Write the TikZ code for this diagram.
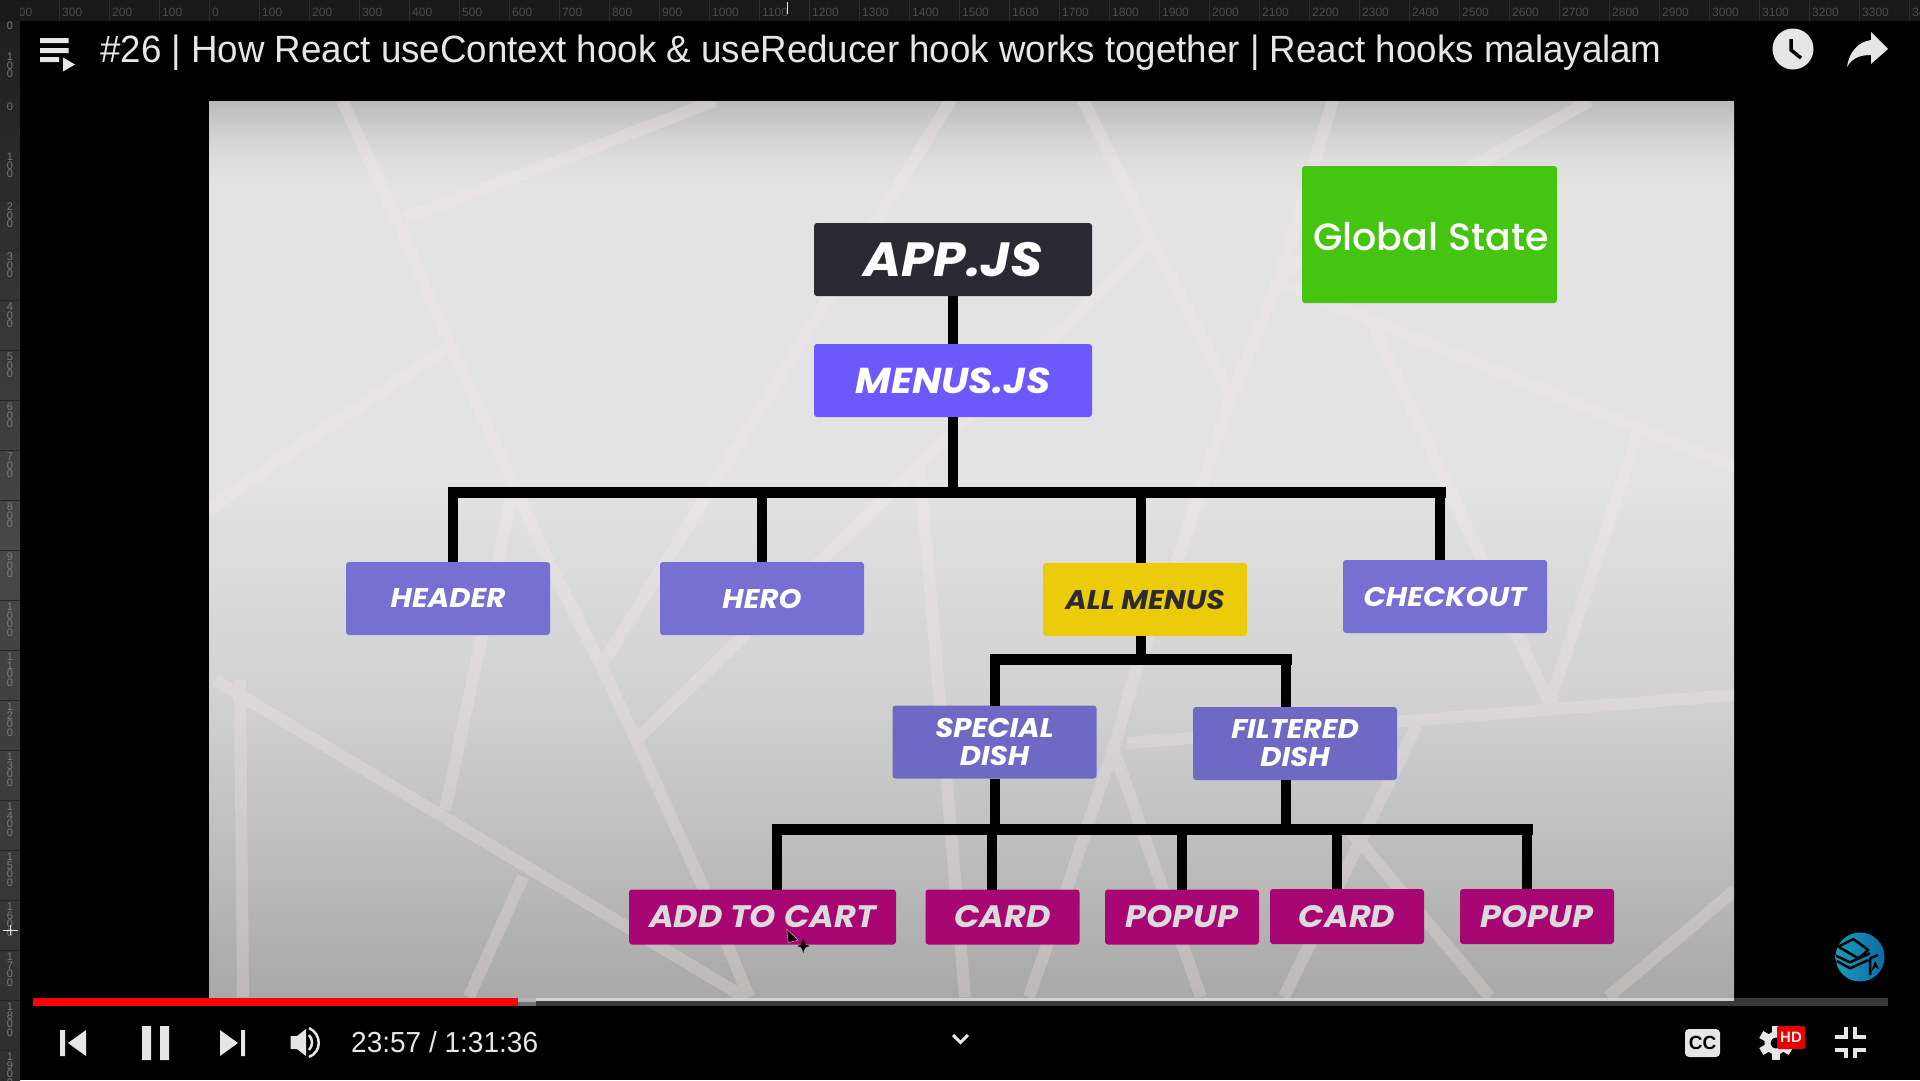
\documentclass[tikz,border=0pt]{standalone}
\usepackage{fontspec}
\setmainfont{Liberation Sans}
\newfontfamily\titlefont{Liberation Sans}[FakeStretch=0.966]
\newfontfamily\boxfont{Poppins}[FakeStretch=1.08]
\newfontfamily\statefont{Poppins Medium}
\usetikzlibrary{positioning}
\definecolor{appdark}{HTML}{2B2A33}
\definecolor{menuviolet}{HTML}{6C58FB}
\definecolor{pagegreen}{HTML}{45C511}
\definecolor{pageviolet}{HTML}{7570D2}
\definecolor{dishviolet}{HTML}{6E69C4}
\definecolor{allyellow}{HTML}{ECCC0A}
\definecolor{leafmagenta}{HTML}{A80672}
\definecolor{uigray}{HTML}{E6E6E6}
\definecolor{streakpink}{HTML}{FFEEF0}
\definecolor{marklight}{HTML}{1B9AB8}
\definecolor{markdeep}{HTML}{0D6CA6}
\pgfdeclareverticalshading{slidefade}{100bp}{
  color(0bp)=(black!34!white); color(25bp)=(black!34!white);
  color(33bp)=(black!26!white); color(41.6bp)=(black!18!white);
  color(54bp)=(black!11!white); color(70bp)=(black!11!white);
  color(71.7bp)=(black!13!white); color(73.2bp)=(black!18!white);
  color(75bp)=(black!27!white); color(100bp)=(black!27!white)}
\tikzset{
  tree/.style={rectangle, rounded corners=3pt, inner sep=0pt, outer sep=0pt,
    minimum width=204pt, minimum height=73pt, text=white, align=center},
  pagebox/.style={tree, fill=pageviolet,
    font=\boxfont\bfseries\itshape\fontsize{27}{28}\selectfont},
  dishbox/.style={pagebox, fill=dishviolet},
  leafbox/.style={tree, fill=leafmagenta, minimum width=154pt, minimum height=55pt,
    text=black!14!white, font=\boxfont\bfseries\itshape\fontsize{31}{36}\selectfont},
  wire/.style={line width=10pt, black},
  bus/.style={line width=11pt, black, line cap=rect},
  streak/.style={line width=12pt, streakpink, opacity=.24, line join=round},
  rulerlab/.style={text=black!70!white, inner sep=0pt, font=\fontsize{12}{12}\selectfont},
  sidelab/.style={text=black!52!white, inner sep=0pt, align=center, anchor=north,
    font=\fontsize{11}{8.5}\selectfont},
  uishape/.style={fill=uigray, draw=none},
  uitext/.style={text=uigray, inner sep=0pt, font=\titlefont}
}
\begin{document}
\begin{tikzpicture}[x=1pt,y=-1pt]
    \useasboundingbox (0,0) rectangle (1920,1080);
    \fill[black] (0,0) rectangle (1920,1080);
    % rulers
    \fill[black!90!white] (0,0) rectangle (1920,21);
    \shade[top color=black!88!white, bottom color=black!82!white, middle color=black!72!white]
      (0,21) rectangle (20,1080);
    \begin{scope}
      \clip (20,0) rectangle (1920,21);
      \foreach \rulx/\rulab in {9/400,59/300,109/200,159/100,209/0} {
        \draw[black!82!white] (\rulx,0) -- (\rulx,21);
        \node[rulerlab, anchor=west] (top\rulab) at (\rulx+3,12) {\rulab};
      }
      \foreach \rulab [evaluate=\rulab as \rulx using int(209+\rulab/2)] in {100,200,...,3400} {
        \draw[black!82!white] (\rulx,0) -- (\rulx,21);
        \node[rulerlab, anchor=west] (topr\rulab) at (\rulx+3,12) {\rulab};
      }
      \draw[uigray] (787,2) -- (787,14);
    \end{scope}
    \begin{scope}
      \clip (0,21) rectangle (20,1080);
      \node[sidelab] (side0a) at (10,22) {0};
      \node[sidelab] (side1a) at (10,53) {1\\0\\0};
      \node[sidelab] (side0b) at (10,103) {0};
      \foreach \i [evaluate=\i as \ruly using int(100+50*\i)] in {1,...,9} {
        \draw[black!85!white] (0,\ruly) -- (20,\ruly);
        \node[sidelab] (side\i) at (10,\ruly+3) {\i\\0\\0};
      }
      \foreach \i [evaluate=\i as \ruly using int(600+50*\i)] in {0,...,9} {
        \draw[black!85!white] (0,\ruly) -- (20,\ruly);
        \node[sidelab] (sidex\i) at (10,\ruly+3) {1\\\i\\0\\0};
      }
      \draw[uigray] (3,930) -- (18,930) (10,925) -- (10,935);
    \end{scope}
    % slide
    \shade[shading=slidefade] (209,101) rectangle (1734,998);
    \begin{scope}
      \clip (209,101) rectangle (1734,998);
      \draw[streak]
        (342,100) -- (400,227) -- (445,333) -- (513,483) -- (543,550) -- (602,667) -- (636,740) -- (703,887) -- (749,997)
        (715,101) -- (553,163) -- (405,218)
        (445,350) -- (297,447) -- (209,510)
        (951,100) -- (602,665)
        (1152,240) -- (636,740)
        (1083,100) -- (1152,240) -- (1230,393)
        (1333,100) -- (1279,280) -- (1230,400) -- (1181,550) -- (1137,667) -- (1117,737) -- (1063,900) -- (1029,997)
        (1590,101) -- (1285,270)
        (1279,283) -- (1735,467)
        (1368,315) -- (1550,705)
        (1638,433) -- (1549,705)
        (1735,695) -- (1127,743)
        (1417,725) -- (1284,997)
        (1112,745) -- (1201,997)
        (1350,830) -- (1490,997)
        (1735,890) -- (1608,997)
        (513,490) -- (445,810)
        (215,680) -- (744,997)
        (523,877) -- (469,997)
        (240,680) -- (243,997)
        (920,470) -- (965,997);
    \end{scope}
    % boxes
    \node[tree, fill=appdark, minimum width=278pt, font=\boxfont\bfseries\itshape\fontsize{48}{50}\selectfont] (app) at (953,259.5) {APP.JS};
    \node[tree, fill=menuviolet, minimum width=278pt, font=\boxfont\bfseries\itshape\fontsize{36}{40}\selectfont] (menus) at (953,380.5) {MENUS.JS};
    \node[tree, fill=pagegreen, minimum width=255pt, minimum height=137pt, font=\statefont\fontsize{38}{44}\selectfont] (state) at (1429.5,234.5) {\raisebox{-16pt}[0pt][0pt]{\hspace{3pt}Global State}};
    \node[pagebox] (header) at (448,598.5) {HEADER};
    \node[pagebox] (hero) at (762,598.5) {HERO};
    \node[pagebox, fill=allyellow, text=appdark] (allmenus) at (1145,599.5) {ALL MENUS};
    \node[pagebox] (checkout) at (1445,596.5) {CHECKOUT};
    \node[dishbox] (special) at (994.5,742) {SPECIAL\\DISH};
    \node[dishbox] (filtered) at (1295,743.5) {FILTERED\\DISH};
    \node[leafbox, minimum width=267pt] (addcart) at (762.5,917) {ADD TO CART};
    \node[leafbox] (carda) at (1002.5,917) {CARD};
    \node[leafbox] (popupa) at (1182,917) {POPUP};
    \node[leafbox] (cardb) at (1347,916.5) {CARD};
    \node[leafbox] (popupb) at (1537,916.5) {POPUP};
    % junctions on the three bars
    \coordinate (busmenus) at (953,492.5);
    \coordinate (busheader) at (453,492.5);
    \coordinate (bushero) at (762,492.5);
    \coordinate (busall) at (1141,492.5);
    \coordinate (buscheckout) at (1440,492.5);
    \coordinate (dishall) at (1141,659.5);
    \coordinate (dishspecial) at (995,659.5);
    \coordinate (dishfiltered) at (1286,659.5);
    \coordinate (leafspecial) at (995,829.5);
    \coordinate (leaffiltered) at (1286,829.5);
    \coordinate (leafadd) at (777,829.5);
    \coordinate (leafcarda) at (992,829.5);
    \coordinate (leafpopupa) at (1182,829.5);
    \coordinate (leafcardb) at (1337,829.5);
    \coordinate (leafpopupb) at (1527,829.5);
    \draw[wire] (app) -- (menus);
    \draw[wire] (menus) -- (busmenus);
    \draw[bus] (busheader) -- (buscheckout);
    \foreach \kid/\top in {header/busheader,hero/bushero,allmenus/busall,checkout/buscheckout}
      \draw[wire] (\top) -- (\top |- \kid.north);
    \draw[wire] (dishall |- allmenus.south) -- (dishall);
    \draw[bus] (dishspecial) -- (dishfiltered);
    \draw[wire] (dishspecial) -- (dishspecial |- special.north);
    \draw[wire] (dishfiltered) -- (dishfiltered |- filtered.north);
    \draw[wire] (leafspecial |- special.south) -- (leafspecial);
    \draw[wire] (leaffiltered |- filtered.south) -- (leaffiltered);
    \draw[bus] (leafadd) -- (leafpopupb);
    \foreach \kid/\top in {addcart/leafadd,carda/leafcarda,popupa/leafpopupa,cardb/leafcardb,popupb/leafpopupb}
      \draw[wire] (\top) -- (\top |- \kid.north);
    % mouse pointer
    \fill[black, draw=leafmagenta!50!white, line width=.6pt] (786.7,929.3) -- (798.3,940) -- (788.3,942.7) -- cycle;
    \draw[latex-latex, black, line width=1pt] (803.3,938) -- (803.3,953);
    \draw[latex-latex, black, line width=1pt] (797,946) -- (810,946);
    % player bar
    \node[uitext, anchor=base west, font=\titlefont\fontsize{38}{44}\selectfont] (title) at (100,62) {\#26 | How React useContext hook \& useReducer hook works together | React hooks malayalam};
    \fill[uishape] (40,38) rectangle (68.5,43) (40,48) rectangle (68.5,53) (40,57) rectangle (59,62);
    \fill[uishape] (63,57.5) -- (75,64.5) -- (63,71.5) -- cycle;
    \fill[uishape] (1793,49) circle (20.5);
    \draw[black, line width=3.5pt] (1791,39) -- (1791,50) -- (1801,58);
    \fill[uishape] (1871,32) -- (1888,49) -- (1871,64) -- (1871,55) .. controls (1860,55) and (1852,58) .. (1847,67) .. controls (1849,53) and (1857,42) .. (1871,40) -- cycle;
    \fill[black!78!white] (536,998) rectangle (1888,1005.5);
    \fill[black!18!white] (536,998) rectangle (1734,1001);
    \fill[black!30!white] (518,998) rectangle (536,1001.5);
    \fill[black!55!white] (518,1001.5) rectangle (536,1005.5);
    \fill[red] (33,998) rectangle (518,1006);
    \fill[uishape] (60,1030) rectangle (65,1056) (86,1030) -- (86,1056) -- (68,1043) -- cycle;
    \fill[uishape] (142,1026) rectangle (151,1060) (160,1026) rectangle (169,1060);
    \fill[uishape] (220,1030) -- (220,1056) -- (238,1043) -- cycle (241,1030) rectangle (245,1056);
    \fill[uishape] (290.5,1036) -- (297,1036) -- (306,1029) -- (306,1056) -- (297,1049) -- (290.5,1049) -- cycle;
    \draw[uigray, line width=2.5pt] (309,1035) .. controls (313,1039) and (313,1046) .. (309,1050);
    \draw[uigray, line width=2.5pt] (309,1028) .. controls (322,1034) and (322,1052) .. (309,1057);
    \node[uitext, anchor=west, font=\titlefont\fontsize{29}{34}\selectfont] (clock) at (351,1042) {23:57 / 1:31:36};
    \draw[uigray, line width=3pt] (953,1035) -- (960.5,1042.5) -- (968,1035);
    \fill[uishape, rounded corners=4pt] (1685,1029) rectangle (1720,1057);
    \node[text=black, inner sep=0pt, font=\bfseries\fontsize{19}{20}\selectfont] (cctext) at (1702.5,1043) {CC};
    \draw[uigray, line width=6pt] (1776,1043) circle (8.5);
    \foreach \a in {0,60,...,300}
      \fill[uishape, rotate around={\a:(1776,1043)}] (1772,1026) rectangle (1780,1033);
    \fill[red!90!black, rounded corners=2pt] (1777,1026) rectangle (1805,1049);
    \node[text=uigray, inner sep=0pt, font=\bfseries\fontsize{15}{16}\selectfont] (hdtext) at (1791,1037.5) {HD};
    \draw[uigray, line width=4pt]
      (1835,1037) -- (1846,1037) -- (1846,1027)
      (1855,1027) -- (1855,1037) -- (1866,1037)
      (1835,1050) -- (1846,1050) -- (1846,1058)
      (1855,1058) -- (1855,1050) -- (1866,1050);
    % channel mark
    \shade[left color=marklight, right color=markdeep] (1860,957) circle (24.5);
    \draw[black, line width=2.5pt, line join=round] (1838.3,946.7) -- (1853.3,939) -- (1868.3,950) -- (1858.3,958.3) -- cycle;
    \draw[black, line width=2.5pt, line join=round]
      (1836,955.7) -- (1850,962.3) -- (1870,953.3)
      (1836.7,961) -- (1850,968.3) -- (1868.3,960)
      (1870,958.3) -- (1870,975)
      (1870,958.3) -- (1878,955);
    \fill[black] (1875,961) -- (1879,969) -- (1875,967) -- (1871,972) -- cycle;
\end{tikzpicture}
\end{document}
